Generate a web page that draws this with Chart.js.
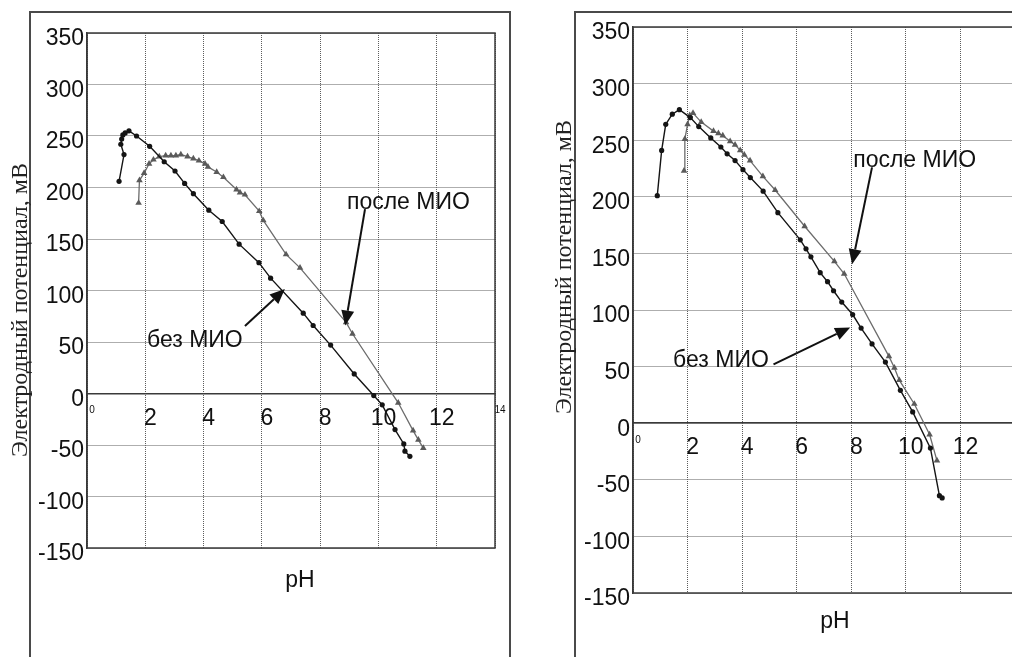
<!DOCTYPE html>
<html lang="ru">
<head>
<meta charset="utf-8">
<title>Электродный потенциал – pH</title>
<script src="https://cdn.jsdelivr.net/npm/chart.js@4.4.1/dist/chart.umd.min.js"></script>
<style>
  html, body { margin: 0; padding: 0; background: #fff; overflow: hidden; }
  body { width: 1012px; height: 657px; position: relative; }
  .frame { position: absolute; border: 2px solid #4a4a4a; box-sizing: border-box; }
  #frameLeft { left: 29px; top: 11px; width: 482px; height: 670px; }
  #frameRight { left: 574px; top: 11px; width: 480px; height: 670px; }
  canvas { position: absolute; top: 0; }
  #chartLeft { left: 0; }
  #chartRight { left: 540px; }
</style>
</head>
<body>
<div class="frame" id="frameLeft"></div>
<div class="frame" id="frameRight"></div>
<canvas id="chartLeft" width="540" height="657"></canvas>
<canvas id="chartRight" width="500" height="657"></canvas>
<script>
const SANS = '"Liberation Sans", Arial, sans-serif';
const SERIF = '"Liberation Serif", "Times New Roman", serif';

const xTicks = [0, 2, 4, 6, 8, 10, 12, 14];
const yTicks = [-150, -100, -50, 0, 50, 100, 150, 200, 250, 300, 350];

// левый график
const phBezA = [1.10, 1.27, 1.16, 1.19, 1.23, 1.31, 1.44, 1.70, 2.15, 2.65, 3.02, 3.35, 3.65, 4.18, 4.64,
  5.22, 5.90, 6.30, 7.42, 7.76, 8.36, 9.17, 9.84, 10.13, 10.57, 10.87, 10.91, 11.08];
const mvBezA = [206, 232, 242, 247, 251, 253, 255, 250, 240, 225, 216, 204, 194, 178, 167,
  145, 127, 112, 78, 66, 47, 19, -2, -11, -35, -49, -56, -61];
const phPosleA = [1.77, 1.80, 1.96, 2.13, 2.28, 2.48, 2.70, 2.88, 3.05, 3.22, 3.45, 3.65, 3.84, 4.05, 4.15,
  4.45, 4.68, 5.13, 5.25, 5.42, 5.91, 6.05, 6.83, 7.31, 8.89, 9.11, 10.68, 11.19, 11.37, 11.54];
const mvPosleA = [185, 207, 214, 223, 227, 230, 231, 231, 231, 232, 230, 228, 226, 223, 220,
  215, 210, 198, 195, 193, 177, 168, 135, 122, 69, 58, -9, -36, -45, -53];

// правый график
const phBezB = [0.89, 1.05, 1.20, 1.44, 1.70, 2.10, 2.41, 2.85, 3.22, 3.45, 3.74, 4.03, 4.30, 4.77, 5.31,
  6.13, 6.34, 6.52, 6.86, 7.13, 7.35, 7.65, 8.05, 8.36, 8.76, 9.25, 9.80, 10.25, 10.90, 11.23, 11.33];
const mvBezB = [201, 241, 264, 273, 277, 270, 262, 252, 244, 238, 232, 224, 217, 205, 186,
  162, 154, 147, 133, 125, 117, 107, 96, 84, 70, 54, 29, 10, -22, -64, -66];
const phPosleB = [1.87, 1.90, 2.00, 2.08, 2.20, 2.50, 2.95, 3.13, 3.29, 3.56, 3.74, 3.93, 4.08, 4.29, 4.76,
  5.21, 6.29, 7.38, 7.74, 9.38, 9.58, 9.76, 10.31, 10.87, 11.14];
const mvPosleB = [223, 251, 264, 272, 274, 266, 258, 256, 254, 249, 246, 241, 237, 232, 218,
  206, 174, 143, 132, 59, 49, 38, 17, -10, -33];

function toPoints(xs, ys) {
  return xs.map((x, i) => ({ x: x, y: ys[i] }));
}

// подписи, стрелки, рамка области построения
const notesPlugin = {
  id: "notes",
  beforeDatasetsDraw(chart) {
    const a = chart.chartArea;
    const ctx = chart.ctx;
    ctx.save();
    ctx.strokeStyle = "#3a3a3a";
    ctx.lineWidth = 1.5;
    ctx.strokeRect(a.left, a.top, a.right - a.left, a.bottom - a.top);
    ctx.restore();
  },
  afterDraw(chart, args, opts) {
    const ctx = chart.ctx;
    const sx = chart.scales.x;
    const sy = chart.scales.y;
    ctx.save();
    ctx.fillStyle = "#111";
    ctx.strokeStyle = "#111";
    ctx.font = "23px " + SANS;
    ctx.textAlign = "left";
    ctx.textBaseline = "middle";
    for (const t of opts.labels) {
      ctx.fillText(t.text, sx.getPixelForValue(t.at[0]), sy.getPixelForValue(t.at[1]));
    }
    for (const ar of opts.arrows) {
      const x1 = sx.getPixelForValue(ar.from[0]), y1 = sy.getPixelForValue(ar.from[1]);
      const x2 = sx.getPixelForValue(ar.to[0]), y2 = sy.getPixelForValue(ar.to[1]);
      const ang = Math.atan2(y2 - y1, x2 - x1);
      const len = 15, half = 6.5;
      const bx = x2 - len * Math.cos(ang), by = y2 - len * Math.sin(ang);
      ctx.lineWidth = 2;
      ctx.beginPath();
      ctx.moveTo(x1, y1);
      ctx.lineTo(bx, by);
      ctx.stroke();
      ctx.beginPath();
      ctx.moveTo(x2, y2);
      ctx.lineTo(bx + half * Math.sin(ang), by - half * Math.cos(ang));
      ctx.lineTo(bx - half * Math.sin(ang), by + half * Math.cos(ang));
      ctx.closePath();
      ctx.fill();
    }
    // ось X
    ctx.textAlign = "center";
    ctx.fillText("pH", opts.xTitle[0], opts.xTitle[1]);
    // ось Y
    ctx.translate(opts.yTitle[0], opts.yTitle[1]);
    ctx.rotate(-Math.PI / 2);
    ctx.font = "24px " + SERIF;
    ctx.fillStyle = "#222";
    ctx.fillText("Электродный потенциал, мВ", 0, 0);
    ctx.restore();
  }
};

function makeChart(id, o) {
  return new Chart(document.getElementById(id), {
    type: "scatter",
    data: {
      datasets: [
        {
          label: "без МИО",
          data: toPoints(o.phBez, o.mvBez),
          showLine: true,
          tension: 0,
          borderColor: "#141414",
          borderWidth: 1.4,
          pointStyle: "circle",
          pointRadius: 2.6,
          pointBorderWidth: 0,
          pointBackgroundColor: "#141414",
        },
        {
          label: "после МИО",
          data: toPoints(o.phPosle, o.mvPosle),
          showLine: true,
          tension: 0,
          borderColor: "#6c6c6c",
          borderWidth: 1.3,
          pointStyle: "triangle",
          pointRadius: 3.8,
          pointBorderWidth: 0,
          pointBackgroundColor: "#5a5a5a",
        },
      ],
    },
    options: {
      responsive: false,
      animation: false,
      events: [],
      layout: { padding: o.pad },
      plugins: {
        legend: { display: false },
        tooltip: { enabled: false },
        notes: o.notes,
      },
      scales: {
        x: {
          type: "linear",
          min: 0,
          max: 14,
          position: { y: 0 },
          afterBuildTicks: (s) => {
            s.ticks = xTicks.map((v) => ({ value: v }));
          },
          grid: { color: "#5c5c5c", lineWidth: 1, drawTicks: false },
          border: { display: true, color: "#3a3a3a", width: 1.5, dash: [1, 1] },
          ticks: {
            padding: 11,
            labelOffset: 5,
            color: "#111",
            font: (c) => ({
              family: SANS,
              size: c.index === 0 || c.index === xTicks.length - 1 ? 10 : 23,
            }),
          },
        },
        y: {
          type: "linear",
          min: -150,
          max: 350,
          position: "left",
          afterBuildTicks: (s) => {
            s.ticks = yTicks.map((v) => ({ value: v }));
          },
          afterFit: (s) => {
            s.width = o.yWidth;
          },
          grid: { color: "#5c5c5c", lineWidth: 1, drawTicks: false },
          border: { display: true, color: "#3a3a3a", width: 1.5, dash: [1, 1] },
          ticks: {
            padding: 3,
            labelOffset: 6,
            color: "#111",
            font: { family: SANS, size: 23 },
          },
        },
      },
    },
    plugins: [notesPlugin],
  });
}

makeChart("chartLeft", {
  phBez: phBezA,
  mvBez: mvBezA,
  phPosle: phPosleA,
  mvPosle: mvPosleA,
  yWidth: 87,
  pad: { top: 33, bottom: 109, left: 0, right: 45 },
  notes: {
    labels: [
      { text: "после МИО", at: [8.92, 185] },
      { text: "без МИО", at: [2.06, 51] },
    ],
    arrows: [
      { from: [9.54, 179], to: [8.86, 66] },
      { from: [5.42, 65.5], to: [6.79, 101.4] },
    ],
    xTitle: [300, 581],
    yTitle: [21, 310],
  },
});

makeChart("chartRight", {
  phBez: phBezB,
  mvBez: mvBezB,
  phPosle: phPosleB,
  mvPosle: mvPosleB,
  yWidth: 93,
  pad: { top: 27, bottom: 64, left: 0, right: 25 },
  notes: {
    labels: [
      { text: "после МИО", at: [8.07, 231.8] },
      { text: "без МИО", at: [1.47, 55] },
    ],
    arrows: [
      { from: [8.76, 226], to: [8.03, 140.5] },
      { from: [5.15, 52], to: [7.96, 84.6] },
    ],
    xTitle: [295, 622],
    yTitle: [25, 267],
  },
});
</script>
</body>
</html>
